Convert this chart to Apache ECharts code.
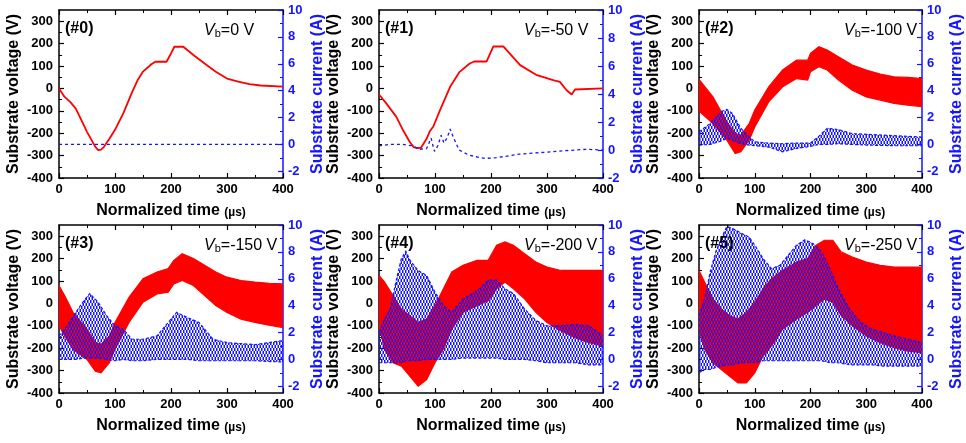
<!DOCTYPE html>
<html>
<head>
<meta charset="utf-8">
<script src="https://cdn.jsdelivr.net/npm/echarts@6/dist/echarts.min.js"></script>
<style>html,body{margin:0;padding:0;background:#fff}#main{width:966px;height:443px}</style>
</head>
<body>
<div id="main"></div>
<script>
// (#0) Vb = 0 V : clean traces
var p0VoltT = [0, 10, 20, 30, 40, 50, 60, 65, 70, 75, 80, 90, 100, 115, 130, 140, 150, 165, 172, 192, 200, 206, 222, 240, 260, 280, 300, 320, 340, 360, 400];
var p0Volt  = [0, -38, -60, -90, -142, -194, -239, -261, -276, -273, -262, -225, -185, -110, -20, 35, 75, 108, 119, 119, 156, 186, 186, 149, 111, 74, 44, 30, 19, 13, 8];
var p0CurrT = [0, 400];
var p0Curr  = [0, 0];

// (#1) Vb = -50 V
var p1VoltT = [0, 13, 31, 43, 55, 62, 67, 75, 85, 91, 97, 109, 127, 144, 162, 170, 192, 204, 222, 252, 282, 311, 323, 335, 344, 350, 400];
var p1Volt  = [-27, -67, -127, -187, -239, -262, -266, -265, -225, -190, -170, -97, 7, 74, 111, 120, 120, 187, 188, 104, 59, 37, 29, -8, -27, -5, 0];
var p1CurrT = [0, 20, 42, 60, 72, 85, 93, 99, 105, 111, 116, 122, 127, 134, 143, 160, 175, 190, 210, 250, 300, 350, 370, 400];
var p1Curr  = [0.3, 0.4, 0.4, 0.3, 0.05, 0.1, 0.85, -0.1, 0.3, 1.05, 0.5, 0.9, 1.5, 0.8, 0.0, -0.35, -0.5, -0.6, -0.55, -0.3, -0.15, 0, 0.05, 0];

// (#2)-(#5): oscillating traces, read as upper / lower envelopes
var p2VoltT  = [0, 5, 25, 50, 65, 75, 90, 100, 125, 150, 175, 195, 200, 215, 230, 250, 275, 300, 325, 350, 375, 400];
var p2VoltHi = [40, 25, -38, -149, -201, -209, -157, -97, 7, 82, 126, 126, 156, 186, 171, 141, 104, 82, 64, 52, 49, 44];
var p2VoltLo = [-100, -112, -157, -231, -291, -283, -231, -172, -60, 7, 44, 37, 74, 97, 82, 37, -8, -38, -52, -67, -75, -82];
var p2CurrT  = [0, 20, 40, 50, 60, 75, 90, 100, 125, 150, 175, 200, 215, 230, 250, 275, 300, 350, 400];
var p2CurrHi = [0.95, 1.55, 2.45, 2.6, 2.3, 1.2, 0.55, 0.2, 0.1, 0.05, 0.1, 0.1, 0.6, 1.2, 1.1, 0.8, 0.75, 0.65, 0.55];
var p2CurrLo = [-0.05, 0, 0.25, 0.45, 0.3, 0.05, -0.05, -0.1, -0.2, -0.55, -0.3, -0.15, 0, 0, 0.05, 0, -0.05, -0.1, -0.1];

var p3VoltT  = [0, 10, 25, 50, 65, 75, 90, 100, 125, 150, 175, 195, 205, 220, 240, 260, 280, 300, 325, 350, 375, 400];
var p3VoltHi = [80, 35, -40, -115, -175, -183, -145, -85, 27, 110, 140, 155, 192, 222, 200, 170, 140, 117, 102, 95, 90, 87];
var p3VoltLo = [-100, -145, -205, -250, -303, -310, -265, -205, -85, 5, 42, 50, 87, 102, 80, 35, -10, -40, -70, -85, -97, -108];
var p3CurrT  = [0, 15, 30, 45, 55, 70, 85, 100, 115, 130, 150, 175, 195, 210, 230, 250, 275, 300, 350, 400];
var p3CurrHi = [1.75, 2.5, 3.5, 4.4, 4.9, 4.25, 3.25, 2.5, 2.25, 1.5, 1.5, 1.75, 2.75, 3.5, 3.1, 2.75, 1.5, 1.25, 1.1, 1.4];
var p3CurrLo = [0, 0, 0, 0.1, 0.1, 0.1, 0, -0.1, 0, -0.1, -0.1, 0, 0, 0, 0, -0.1, -0.1, -0.1, -0.1, -0.2];

var p4VoltT  = [0, 10, 25, 40, 55, 70, 85, 100, 115, 130, 150, 175, 195, 210, 225, 240, 260, 280, 300, 325, 350, 375, 400];
var p4VoltHi = [125, 95, 35, -25, -55, -85, -70, -10, 65, 140, 170, 192, 192, 260, 275, 260, 222, 185, 162, 147, 147, 147, 147];
var p4VoltLo = [-100, -205, -265, -280, -325, -370, -340, -265, -205, -115, -40, -10, 12, 65, 95, 65, 20, -40, -85, -123, -153, -175, -190];
var p4CurrT  = [0, 10, 20, 30, 40, 48, 55, 70, 85, 100, 115, 130, 150, 175, 195, 210, 225, 240, 260, 280, 300, 325, 350, 375, 400];
var p4CurrHi = [2.0, 3.0, 3.75, 5.75, 7.5, 8.05, 7.4, 6.6, 6.25, 5.0, 4.0, 3.5, 4.5, 5.1, 5.9, 5.9, 5.25, 4.9, 3.75, 2.9, 2.5, 2.5, 2.6, 2.5, 1.75];
var p4CurrLo = [-0.25, -0.25, -0.25, -0.25, -0.25, -0.1, -0.1, -0.1, 0, 0, 0, 0, 0.1, 0.1, 0.1, 0.1, 0, 0, 0, -0.1, -0.25, -0.25, -0.25, -0.4, -0.4];

var p5VoltT  = [0, 10, 25, 40, 55, 70, 85, 100, 115, 130, 150, 175, 195, 210, 225, 240, 255, 275, 300, 325, 350, 375, 400];
var p5VoltHi = [147, 95, 20, -25, -55, -70, -40, 5, 65, 110, 147, 185, 200, 260, 282, 282, 230, 207, 185, 170, 162, 162, 162];
var p5VoltLo = [-115, -205, -265, -295, -325, -355, -355, -310, -235, -190, -115, -70, -40, -10, 20, 5, -55, -100, -145, -175, -198, -213, -220];
var p5CurrT  = [0, 10, 20, 30, 40, 50, 60, 75, 90, 100, 115, 130, 145, 160, 175, 190, 205, 220, 235, 250, 270, 290, 310, 330, 350, 375, 400];
var p5CurrHi = [3.25, 4.5, 6.5, 8.0, 9.0, 9.9, 9.75, 9.4, 9.1, 8.5, 7.5, 6.75, 7.0, 7.75, 8.5, 8.9, 8.6, 8.0, 6.75, 5.25, 3.75, 2.75, 2.25, 2.0, 1.75, 1.5, 1.25];
var p5CurrLo = [-1.0, -0.75, -0.75, -0.6, -0.5, -0.4, -0.4, -0.25, -0.25, -0.25, -0.1, -0.1, -0.1, -0.1, -0.1, -0.1, -0.1, -0.1, -0.25, -0.25, -0.4, -0.4, -0.4, -0.5, -0.5, -0.5, -0.5];

var panelTags = ['(#0)', '(#1)', '(#2)', '(#3)', '(#4)', '(#5)'];
var biasLabels = ['0', '-50', '-100', '-150', '-200', '-250'];
var currMin = [-2.5, -2, -2.5, -2.5, -2.5, -2.5];

var voltLabels = [-400, -300, -200, -100, 0, 100, 200, 300];
var voltMinor = [-350, -250, -150, -50, 50, 150, 250];
var currLabels = [-2, 0, 2, 4, 6, 8, 10];
var currMinor = [-1, 1, 3, 5, 7, 9];

var FONT = '"Liberation Sans", Arial, sans-serif';
var RED = '#ff0000';
var BLUE = '#1414ff';

var colLeft = [59, 379, 699];
var rowTop = [10, 225];
var gridW = 224, gridH = 168;

var chart = echarts.init(document.getElementById('main'));

// blue dash texture for the current bursts
function hatch() {
    var c = document.createElement('canvas');
    c.width = 3; c.height = 6;
    var g = c.getContext('2d');
    g.fillStyle = BLUE;
    g.fillRect(0, 0, 1.5, 3);
    g.fillRect(1.5, 3, 1.5, 3);
    return c;
}
var hatchImg = hatch();

function pairs(t, v) {
    return t.map(function (x, i) { return [x, v[i]]; });
}

function plainLine(p, yIdx, t, v, color, dash, w) {
    return {
        type: 'line', xAxisIndex: 2 * p, yAxisIndex: yIdx, data: pairs(t, v),
        symbol: 'none', silent: true,
        lineStyle: { color: color, width: w, type: dash ? [3, 3] : 'solid' }
    };
}

// filled envelope between hi and lo, positioned by the axes via api.coord
function band(p, yIdx, t, hi, lo, stroke, fill, dash) {
    return {
        type: 'custom', xAxisIndex: 2 * p, yAxisIndex: yIdx, silent: true,
        data: t.map(function (x, i) { return [x, hi[i], lo[i]]; }),
        encode: { x: 0, y: [1, 2] },
        renderItem: function (params, api) {
            if (params.dataIndex !== 0) return;
            var top = t.map(function (x, i) { return api.coord([x, hi[i]]); });
            var bot = t.map(function (x, i) { return api.coord([x, lo[i]]); });
            var ring = top.concat(bot.slice().reverse());
            var edge = { stroke: stroke, lineWidth: 1.2, fill: null, lineDash: dash ? [3, 2] : null };
            return {
                type: 'group',
                children: [
                    { type: 'polygon', shape: { points: ring }, style: { fill: fill, stroke: null } },
                    { type: 'polyline', shape: { points: top }, style: edge },
                    { type: 'polyline', shape: { points: bot }, style: edge }
                ]
            };
        }
    };
}

var grids = [], xAxes = [], yAxes = [], series = [], texts = [];
var bold13 = { fontWeight: 'bold', fontSize: 13, fontFamily: FONT };

for (var p = 0; p < 6; p++) {
    var c = p % 3, r = Math.floor(p / 3);
    grids.push({ left: colLeft[c], top: rowTop[r], width: gridW, height: gridH });

    var xBase = {
        gridIndex: p, type: 'value', min: 0, max: 400, interval: 100,
        axisLine: { onZero: false, lineStyle: { color: '#000', width: 1.5 } },
        axisTick: { inside: true, length: 5, lineStyle: { color: '#000', width: 1.2 } },
        minorTick: { show: true, splitNumber: 2, length: 3, lineStyle: { color: '#000', width: 1 } },
        splitLine: { show: false }
    };
    xAxes.push(Object.assign({}, xBase, {
        position: 'bottom',
        axisLabel: Object.assign({ color: '#000', margin: 5 }, bold13),
        name: 'Normalized time {u|(µs)}', nameLocation: 'middle', nameGap: 25,
        nameTextStyle: { color: '#000', fontWeight: 'bold', fontSize: 16, fontFamily: FONT,
            rich: { u: { fontWeight: 'bold', fontSize: 12, fontFamily: FONT, color: '#000', padding: [3, 0, 0, 0] } } }
    }));
    xAxes.push(Object.assign({}, xBase, { position: 'top', axisLabel: { show: false } }));

    // left voltage axis, right current axis, then the two minor-tick overlays
    yAxes.push({
        gridIndex: p, type: 'value', position: 'left', min: -400, max: 350, interval: 100,
        axisLine: { show: true, onZero: false, lineStyle: { color: '#000', width: 1.5 } },
        axisTick: { inside: true, length: 5, customValues: voltLabels, lineStyle: { color: '#000', width: 1.2 } },
        axisLabel: Object.assign({ color: '#000', margin: 6, customValues: voltLabels }, bold13),
        splitLine: { show: false },
        name: 'Substrate voltage (V)', nameLocation: 'middle', nameGap: 37,
        nameTextStyle: { color: '#000', fontWeight: 'bold', fontSize: 16, fontFamily: FONT }
    });
    yAxes.push({
        gridIndex: p, type: 'value', position: 'right', min: currMin[p], max: 10, interval: 2,
        axisLine: { show: true, onZero: false, lineStyle: { color: BLUE, width: 1.5 } },
        axisTick: { inside: true, length: 5, customValues: currLabels, lineStyle: { color: BLUE, width: 1.2 } },
        axisLabel: Object.assign({ color: BLUE, margin: 5, customValues: currLabels }, bold13),
        splitLine: { show: false },
        name: 'Substrate current (A)', nameLocation: 'middle', nameGap: 27,
        nameTextStyle: { color: BLUE, fontWeight: 'bold', fontSize: 16, fontFamily: FONT }
    });
    yAxes.push({
        gridIndex: p, type: 'value', position: 'left', min: -400, max: 350,
        axisLine: { show: false, onZero: false }, axisLabel: { show: false }, splitLine: { show: false },
        axisTick: { show: true, inside: true, length: 3, customValues: voltMinor, lineStyle: { color: '#000' } }
    });
    yAxes.push({
        gridIndex: p, type: 'value', position: 'right', min: currMin[p], max: 10,
        axisLine: { show: false, onZero: false }, axisLabel: { show: false }, splitLine: { show: false },
        axisTick: { show: true, inside: true, length: 3, customValues: currMinor, lineStyle: { color: BLUE } }
    });

    texts.push({
        type: 'text', left: colLeft[c] + 6, top: rowTop[r] + 11, z: 10,
        style: { text: panelTags[p], fill: '#000', fontSize: 16, fontWeight: 'bold', fontFamily: FONT }
    });
    texts.push({
        type: 'text', left: colLeft[c] + 145, top: rowTop[r] + 13, z: 10,
        style: {
            text: '{i|V}{s|b}{n|=' + biasLabels[p] + ' V}', fill: '#000',
            rich: {
                i: { fontSize: 16, fontStyle: 'italic', fontFamily: FONT, fill: '#000', lineHeight: 16, verticalAlign: 'top' },
                s: { fontSize: 11, fontFamily: FONT, fill: '#000', lineHeight: 11, verticalAlign: 'bottom' },
                n: { fontSize: 16, fontFamily: FONT, fill: '#000', lineHeight: 16, verticalAlign: 'top' }
            }
        }
    });
}

var vIdx = function (p) { return 4 * p; };
var iIdx = function (p) { return 4 * p + 1; };

series.push(plainLine(0, vIdx(0), p0VoltT, p0Volt, RED, false, 1.8));
series.push(plainLine(0, iIdx(0), p0CurrT, p0Curr, BLUE, true, 1.3));
series.push(plainLine(1, vIdx(1), p1VoltT, p1Volt, RED, false, 1.8));
series.push(plainLine(1, iIdx(1), p1CurrT, p1Curr, BLUE, true, 1.3));

var bursts = [
    [2, p2VoltT, p2VoltHi, p2VoltLo, p2CurrT, p2CurrHi, p2CurrLo],
    [3, p3VoltT, p3VoltHi, p3VoltLo, p3CurrT, p3CurrHi, p3CurrLo],
    [4, p4VoltT, p4VoltHi, p4VoltLo, p4CurrT, p4CurrHi, p4CurrLo],
    [5, p5VoltT, p5VoltHi, p5VoltLo, p5CurrT, p5CurrHi, p5CurrLo]
];
bursts.forEach(function (b) {
    series.push(band(b[0], vIdx(b[0]), b[1], b[2], b[3], RED, RED, false));
    series.push(band(b[0], iIdx(b[0]), b[4], b[5], b[6], BLUE, { image: hatchImg, repeat: 'repeat' }, true));
});

chart.setOption({
    animation: false,
    backgroundColor: '#fff',
    grid: grids,
    xAxis: xAxes,
    yAxis: yAxes,
    series: series,
    graphic: texts
});
</script>
</body>
</html>
